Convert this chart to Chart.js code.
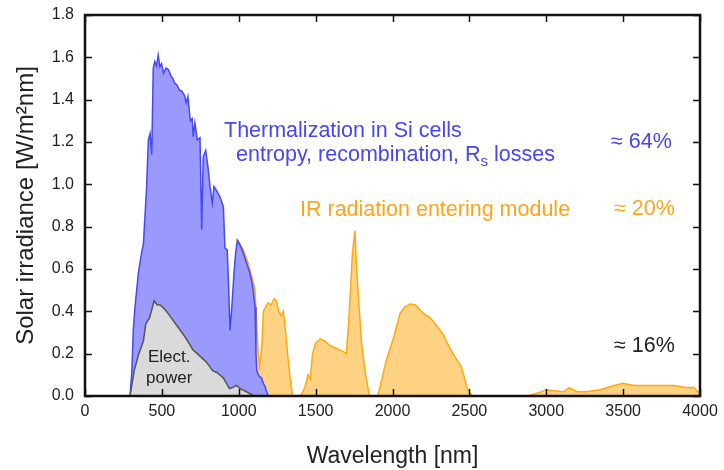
<!DOCTYPE html>
<html lang="en">
<head>
    <meta charset="UTF-8">
    <title>Solar irradiance losses</title>
    <script src="https://cdn.jsdelivr.net/npm/chart.js"></script>
    <style>
        body { margin: 0; background: #fff; }
        canvas { display: block; }
    </style>
</head>
<body>
    <canvas id="myChart" width="724" height="470"></canvas>
    <script>
        // wavelength [nm] / irradiance [W/m2nm]
        const thermWl = [293, 305, 314, 325, 347, 360, 369, 380, 401, 412, 423, 434, 444, 454, 465, 476, 487, 498, 511, 527,
            544, 560, 571, 582, 598, 615, 630, 647, 658, 669, 685, 697, 704, 715, 730, 748, 759, 769, 785, 800,
            813, 828, 839, 856, 878, 900, 910, 925, 935, 943, 955, 969, 980, 991, 1010, 1030, 1050, 1073, 1090, 1106,
            1112, 1117, 1128, 1138, 1148, 1160, 1171, 1182, 1192];
        const thermVal = [0, 0.12, 0.31, 0.42, 0.58, 0.64, 0.68, 0.72, 0.99, 1.21, 1.24, 1.14, 1.55, 1.58, 1.56, 1.61, 1.555, 1.57, 1.525, 1.55,
            1.54, 1.51, 1.50, 1.48, 1.47, 1.445, 1.44, 1.42, 1.385, 1.415, 1.30, 1.31, 1.225, 1.29, 1.21, 1.22, 0.785, 1.13, 1.16, 1.08,
            0.99, 0.91, 0.99, 0.97, 0.94, 0.895, 0.70, 0.69, 0.50, 0.31, 0.42, 0.58, 0.68, 0.735, 0.71, 0.675, 0.63, 0.58, 0.52, 0.42,
            0.20, 0.12, 0.10, 0.09, 0.085, 0.06, 0.045, 0.02, 0];

        const powerWl = [293, 320, 350, 380, 395, 420, 450, 470, 490, 530, 560, 590, 620, 650, 680, 700, 730, 760, 790, 830,
            860, 900, 940, 960, 985, 1010, 1050, 1100];
        const powerVal = [0, 0.12, 0.20, 0.26, 0.34, 0.37, 0.45, 0.43, 0.43, 0.40, 0.37, 0.34, 0.31, 0.28, 0.245, 0.22, 0.20, 0.18, 0.16, 0.12,
            0.11, 0.085, 0.035, 0.04, 0.05, 0.035, 0.02, 0];

        const irWl = [985, 1000, 1030, 1060, 1090, 1106, 1116, 1127, 1136, 1149, 1160, 1175, 1190, 1210, 1230, 1245, 1260, 1275, 1290, 1305,
            1320, 1335, 1350, 1400, 1430, 1450, 1465, 1480, 1500, 1530, 1560, 1590, 1620, 1650, 1680, 1700, 1715, 1740, 1756, 1765,
            1780, 1800, 1825, 1850, 1905, 1960, 2005, 2049, 2080, 2114, 2150, 2200, 2244, 2290, 2330, 2370, 2410, 2447, 2470, 2490,
            2520, 2880, 2950, 3000, 3050, 3110, 3150, 3200, 3260, 3350, 3440, 3500, 3570, 3700, 3830, 3910, 3960, 4000];
        const irVal = [0.74, 0.73, 0.69, 0.63, 0.55, 0.50, 0.35, 0.20, 0.14, 0.22, 0.40, 0.42, 0.44, 0.43, 0.46, 0.45, 0.40, 0.38, 0.40, 0.30,
            0.18, 0.08, 0, 0, 0.04, 0.10, 0.08, 0.20, 0.25, 0.27, 0.26, 0.24, 0.23, 0.22, 0.21, 0.20, 0.35, 0.68, 0.78, 0.62,
            0.45, 0.24, 0.10, 0, 0, 0.17, 0.27, 0.39, 0.42, 0.435, 0.43, 0.39, 0.37, 0.33, 0.29, 0.23, 0.18, 0.14, 0.08, 0.03,
            0, 0, 0.015, 0.03, 0.025, 0.02, 0.04, 0.02, 0.02, 0.03, 0.05, 0.06, 0.05, 0.05, 0.05, 0.04, 0.04, 0.01];

        const xTicks = [0, 500, 1000, 1500, 2000, 2500, 3000, 3500, 4000];
        const yTicks = [0, 0.2, 0.4, 0.6, 0.8, 1.0, 1.2, 1.4, 1.6, 1.8];

        function toPoints(xs, ys) {
            return xs.map((x, i) => ({ x: x, y: ys[i] }));
        }

        const FONT = '"Liberation Sans", Arial, sans-serif';
        const BLUE_TXT = '#4646f2';
        const ORANGE_TXT = '#ffa41a';

        // box frame, inward ticks and the annotations
        const framePlugin = {
            id: 'frame',
            afterDraw(chart) {
                const { ctx, chartArea: a, scales } = chart;
                const tl = 7;
                ctx.save();
                ctx.strokeStyle = '#111';
                ctx.lineWidth = 1.5;
                ctx.beginPath();
                xTicks.forEach(v => {
                    const px = Math.round(scales.x.getPixelForValue(v)) + 0.5;
                    ctx.moveTo(px, a.bottom); ctx.lineTo(px, a.bottom - tl);
                    ctx.moveTo(px, a.top); ctx.lineTo(px, a.top + tl);
                });
                yTicks.forEach(v => {
                    const py = Math.round(scales.y.getPixelForValue(v)) + 0.5;
                    ctx.moveTo(a.left, py); ctx.lineTo(a.left + tl, py);
                    ctx.moveTo(a.right, py); ctx.lineTo(a.right - tl, py);
                });
                ctx.stroke();
                ctx.lineWidth = 2.5;
                ctx.strokeRect(a.left, a.top, a.right - a.left, a.bottom - a.top);

                ctx.textBaseline = 'alphabetic';
                ctx.textAlign = 'left';
                const big = '21.5px ' + FONT;
                ctx.font = big;
                ctx.fillStyle = BLUE_TXT;
                ctx.fillText('Thermalization in Si cells', 224, 137);
                let s = 'entropy, recombination, R';
                ctx.fillText(s, 236, 161);
                let w = ctx.measureText(s).width;
                ctx.font = '15px ' + FONT;
                ctx.fillText('s', 236 + w, 166);
                let w2 = ctx.measureText('s').width;
                ctx.font = big;
                ctx.fillText(' losses', 236 + w + w2, 161);
                ctx.fillText('\u2248 64%', 611, 148);

                ctx.fillStyle = ORANGE_TXT;
                ctx.fillText('IR radiation entering module', 300, 216);
                ctx.fillText('\u2248 20%', 614, 215);

                ctx.fillStyle = '#222';
                ctx.fillText('\u2248 16%', 614, 352);

                ctx.font = '17px ' + FONT;
                ctx.fillText('Elect.', 148, 362);
                ctx.fillText('power', 146, 383);
                ctx.restore();
            }
        };

        const ctx = document.getElementById('myChart').getContext('2d');
        new Chart(ctx, {
            type: 'line',
            data: {
                datasets: [{
                    label: 'Electric power',
                    data: toPoints(powerWl, powerVal),
                    borderColor: '#555555',
                    backgroundColor: '#dadada',
                    borderWidth: 1.5,
                    fill: 'origin'
                }, {
                    label: 'Thermalization',
                    data: toPoints(thermWl, thermVal),
                    borderColor: '#4848f4',
                    backgroundColor: '#9a9afc',
                    borderWidth: 1.5,
                    fill: 'origin'
                }, {
                    label: 'IR radiation',
                    data: toPoints(irWl, irVal),
                    borderColor: '#ffa812',
                    backgroundColor: '#fdd283',
                    borderWidth: 1.5,
                    fill: 'origin'
                }]
            },
            options: {
                responsive: false,
                animation: false,
                layout: { padding: { top: 15, right: 24, left: 0, bottom: 0 } },
                elements: { point: { radius: 0 }, line: { tension: 0 } },
                plugins: { legend: { display: false }, tooltip: { enabled: false } },
                scales: {
                    x: {
                        type: 'linear',
                        min: 0,
                        max: 4000,
                        afterFit: s => { s.height = 74; s.paddingLeft = 0; s.paddingRight = 0; },
                        afterBuildTicks: s => { s.ticks = xTicks.map(v => ({ value: v })); },
                        grid: { display: false, drawTicks: false },
                        border: { display: false },
                        ticks: { color: '#222', font: { family: FONT, size: 16 }, padding: 6, maxRotation: 0, callback: v => String(v) },
                        title: { display: true, text: 'Wavelength [nm]', color: '#222', font: { family: FONT, size: 23 }, padding: { top: 0, bottom: 0 } }
                    },
                    y: {
                        min: 0,
                        max: 1.8,
                        afterFit: s => { s.width = 85; s.paddingTop = 0; s.paddingBottom = 0; },
                        afterBuildTicks: s => { s.ticks = yTicks.map(v => ({ value: v })); },
                        grid: { display: false, drawTicks: false },
                        border: { display: false },
                        ticks: { color: '#222', font: { family: FONT, size: 16 }, padding: 11, callback: v => v.toFixed(1) },
                        title: { display: true, text: 'Solar irradiance [W/m\u00b2nm]', color: '#222', font: { family: FONT, size: 24 }, padding: { top: 12, bottom: 0 } }
                    }
                }
            },
            plugins: [framePlugin]
        });
    </script>
</body>
</html>
